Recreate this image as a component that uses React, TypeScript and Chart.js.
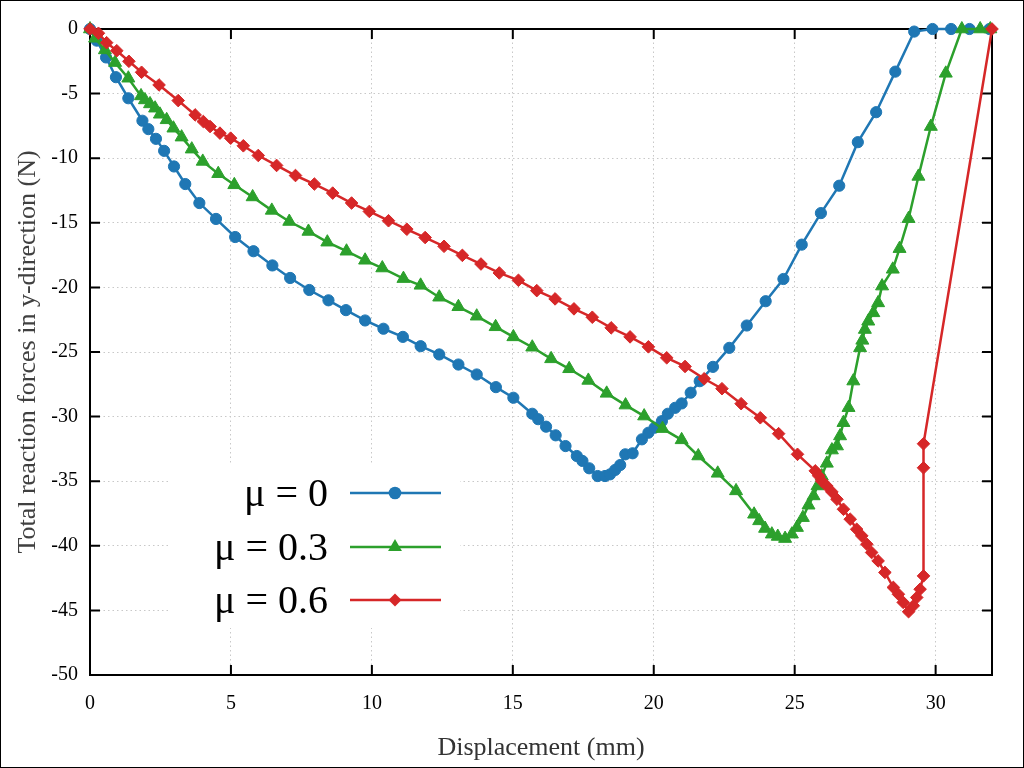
import React, { useEffect, useRef } from "react";
import { Chart, registerables } from "chart.js";

Chart.register(...registerables);

// ---- data (displacement in mm, force in N) ----
const mu0X = [0, 0.24, 0.57, 0.92, 1.36, 1.86, 2.07, 2.34, 2.63, 2.98, 3.38, 3.88, 4.47, 5.15, 5.8, 6.47, 7.1, 7.78, 8.46, 9.08, 9.76, 10.41, 11.1, 11.73, 12.39, 13.07, 13.72, 14.4, 15.02, 15.69, 15.9, 16.18, 16.52, 16.87, 17.27, 17.47, 17.71, 18.01, 18.27, 18.45, 18.63, 18.81, 18.99, 19.25, 19.58, 19.81, 20.03, 20.29, 20.5, 20.76, 20.99, 21.31, 21.63, 22.1, 22.68, 23.3, 23.97, 24.6, 25.25, 25.93, 26.58, 27.24, 27.89, 28.57, 29.24, 29.89, 30.55, 31.2, 31.91];
const mu0Y = [0, -0.9, -2.2, -3.73, -5.36, -7.1, -7.75, -8.5, -9.43, -10.64, -12.0, -13.47, -14.7, -16.1, -17.2, -18.3, -19.27, -20.2, -21.0, -21.76, -22.56, -23.2, -23.83, -24.55, -25.19, -25.97, -26.74, -27.72, -28.54, -29.78, -30.2, -30.78, -31.45, -32.28, -33.05, -33.43, -34.0, -34.6, -34.6, -34.47, -34.13, -33.75, -32.92, -32.84, -31.76, -31.25, -30.86, -30.35, -29.78, -29.32, -28.98, -28.15, -27.26, -26.15, -24.68, -22.95, -21.07, -19.35, -16.69, -14.25, -12.13, -8.76, -6.44, -3.3, -0.2, 0, 0, 0, 0];

const mu03X = [0, 0.18, 0.53, 0.89, 1.36, 1.81, 1.95, 2.13, 2.31, 2.48, 2.72, 2.96, 3.25, 3.61, 4.0, 4.55, 5.12, 5.77, 6.45, 7.07, 7.75, 8.42, 9.1, 9.76, 10.37, 11.12, 11.73, 12.39, 13.07, 13.72, 14.39, 15.02, 15.69, 16.36, 17.0, 17.68, 18.33, 19.0, 19.66, 20.31, 20.99, 21.58, 22.27, 22.92, 23.56, 23.74, 23.95, 24.19, 24.4, 24.66, 24.9, 25.08, 25.29, 25.49, 25.67, 25.81, 25.96, 26.14, 26.32, 26.5, 26.61, 26.73, 26.91, 27.08, 27.32, 27.4, 27.49, 27.61, 27.79, 27.96, 28.1, 28.48, 28.72, 29.04, 29.39, 29.83, 30.36, 30.93, 31.58, 31.94];
const mu03Y = [0, -0.72, -1.62, -2.6, -3.81, -5.18, -5.49, -5.8, -6.13, -6.6, -7.03, -7.68, -8.37, -9.3, -10.25, -11.2, -12.06, -13.0, -14.04, -14.9, -15.67, -16.5, -17.2, -17.9, -18.5, -19.32, -19.84, -20.76, -21.5, -22.23, -23.05, -23.83, -24.63, -25.53, -26.3, -27.2, -28.2, -29.11, -29.96, -30.93, -31.8, -33.05, -34.39, -35.75, -37.56, -38.07, -38.66, -39.1, -39.28, -39.44, -39.1, -38.59, -37.82, -36.86, -36.14, -35.37, -34.6, -33.62, -32.59, -32.28, -31.5, -30.47, -29.31, -27.25, -24.68, -24.1, -23.26, -22.62, -21.97, -21.2, -19.9, -18.6, -17.0, -14.68, -11.41, -7.55, -3.43, 0, 0, 0];

const mu06X = [0, 0.3, 0.59, 0.95, 1.38, 1.83, 2.45, 3.13, 3.73, 4.02, 4.26, 4.61, 4.99, 5.44, 5.97, 6.62, 7.29, 7.96, 8.61, 9.28, 9.91, 10.59, 11.24, 11.89, 12.56, 13.21, 13.87, 14.52, 15.2, 15.85, 16.5, 17.17, 17.82, 18.49, 19.16, 19.81, 20.46, 21.11, 21.79, 22.42, 23.1, 23.78, 24.43, 25.1, 25.73, 25.85, 25.96, 26.14, 26.32, 26.5, 26.73, 26.97, 27.2, 27.38, 27.56, 27.73, 27.96, 28.2, 28.5, 28.68, 28.85, 29.04, 29.21, 29.33, 29.45, 29.57, 29.57, 29.57, 32];
const mu06Y = [0, -0.33, -1.06, -1.68, -2.5, -3.35, -4.33, -5.54, -6.65, -7.16, -7.55, -8.06, -8.45, -9.04, -9.79, -10.56, -11.34, -12.0, -12.7, -13.47, -14.12, -14.84, -15.5, -16.14, -16.82, -17.52, -18.19, -18.88, -19.45, -20.25, -20.89, -21.66, -22.31, -23.13, -23.83, -24.6, -25.45, -26.12, -27.07, -27.84, -29.0, -30.09, -31.32, -32.92, -34.2, -34.58, -34.98, -35.37, -35.83, -36.4, -37.17, -37.94, -38.72, -39.23, -39.88, -40.52, -41.17, -42.06, -43.22, -43.75, -44.38, -45.1, -44.64, -44.0, -43.36, -42.33, -33.96, -32.1, 0];

const seriesLabels = ["\u03bc = 0", "\u03bc = 0.3", "\u03bc = 0.6"];
const seriesColors = ["#1f77b4", "#2ca02c", "#d62728"];
const seriesStyles = ["circle", "triangle", "rectRot"];
const xTitle = "Displacement (mm)";
const yTitle = "Total reaction forces in y-direction (N)";

const SERIF = "'Liberation Serif', 'DejaVu Serif', serif";

const toPoints = (xs: number[], ys: number[]) => xs.map((x, i) => ({ x, y: ys[i] }));

function drawMarker(ctx: CanvasRenderingContext2D, style: string, x: number, y: number, r: number) {
  ctx.beginPath();
  if (style === "circle") {
    ctx.arc(x, y, r, 0, Math.PI * 2);
  } else if (style === "triangle") {
    for (let k = 0; k < 3; k++) {
      const a = (k * 2 * Math.PI) / 3;
      const px = x + Math.sin(a) * r;
      const py = y - Math.cos(a) * r;
      if (k === 0) ctx.moveTo(px, py);
      else ctx.lineTo(px, py);
    }
    ctx.closePath();
  } else {
    ctx.moveTo(x, y - r);
    ctx.lineTo(x + r, y);
    ctx.lineTo(x, y + r);
    ctx.lineTo(x - r, y);
    ctx.closePath();
  }
  ctx.fill();
}

const framePlugin = {
  id: "frameAndLegendBox",
  beforeDatasetsDraw(chart: any) {
    const { ctx, chartArea } = chart;
    const { left, right, top, bottom } = chartArea;
    ctx.save();
    // legend background box (covers grid lines)
    ctx.fillStyle = "#ffffff";
    ctx.fillRect(170, 465, 290, 163);
    // frame
    ctx.strokeStyle = "#000";
    ctx.lineWidth = 2;
    ctx.strokeRect(left, top, right - left, bottom - top);
    // inward ticks
    const tl = 10;
    ctx.beginPath();
    chart.scales.x.ticks.forEach((t: any) => {
      const px = chart.scales.x.getPixelForValue(t.value);
      ctx.moveTo(px, bottom);
      ctx.lineTo(px, bottom - tl);
      ctx.moveTo(px, top);
      ctx.lineTo(px, top + tl);
    });
    chart.scales.y.ticks.forEach((t: any) => {
      const py = chart.scales.y.getPixelForValue(t.value);
      ctx.moveTo(left, py);
      ctx.lineTo(left + tl, py);
      ctx.moveTo(right, py);
      ctx.lineTo(right - tl, py);
    });
    ctx.stroke();
    ctx.restore();
  },
  afterDraw(chart: any) {
    const { ctx } = chart;
    ctx.save();
    // legend
    const rowsY = [493, 547, 600];
    const radii = [6.3, 8, 6.5];
    ctx.font = `40px ${SERIF}`;
    ctx.textAlign = "right";
    ctx.textBaseline = "middle";
    seriesLabels.forEach((lab, i) => {
      const y = rowsY[i];
      ctx.fillStyle = "#000";
      ctx.fillText(lab, 328, y + 2);
      ctx.strokeStyle = seriesColors[i];
      ctx.lineWidth = 2.5;
      ctx.beginPath();
      ctx.moveTo(350, y);
      ctx.lineTo(441, y);
      ctx.stroke();
      ctx.fillStyle = seriesColors[i];
      drawMarker(ctx, seriesStyles[i], 395, y, radii[i]);
    });
    // outer border of the image
    ctx.strokeStyle = "#000";
    ctx.lineWidth = 1;
    ctx.strokeRect(0.5, 0.5, chart.width - 1, chart.height - 1);
    ctx.restore();
  },
};

export default function App() {
  const canvasRef = useRef<HTMLCanvasElement | null>(null);

  useEffect(() => {
    document.body.style.margin = "0";
    const canvas = canvasRef.current;
    if (!canvas) return;
    const xs = [mu0X, mu03X, mu06X];
    const ys = [mu0Y, mu03Y, mu06Y];
    const radii = [5.6, 7.5, 6.3];
    const chart = new Chart(canvas, {
      type: "line",
      data: {
        datasets: seriesLabels.map((label, i) => ({
          label,
          data: toPoints(xs[i], ys[i]),
          borderColor: seriesColors[i],
          backgroundColor: seriesColors[i],
          pointBackgroundColor: seriesColors[i],
          pointBorderColor: seriesColors[i],
          pointBorderWidth: 1,
          pointStyle: seriesStyles[i] as any,
          pointRadius: radii[i],
          borderWidth: 2.5,
          tension: 0,
          clip: false as any,
          order: 3 - i,
        })),
      },
      options: {
        animation: false,
        responsive: false,
        devicePixelRatio: 1,
        parsing: true,
        layout: { padding: { top: 29, right: 32, left: 0, bottom: 0 } },
        plugins: {
          legend: { display: false },
          tooltip: { enabled: false },
        },
        scales: {
          x: {
            type: "linear",
            min: 0,
            max: 32,
            ticks: {
              stepSize: 5,
              includeBounds: false,
              color: "#000",
              font: { family: SERIF, size: 20 },
              padding: 17,
              maxRotation: 0,
            } as any,
            grid: { color: "#c8c8c8", lineWidth: 1, drawTicks: false },
            border: { display: false, dash: [1.5, 3] },
            title: {
              display: true,
              text: xTitle,
              color: "#333",
              font: { family: SERIF, size: 26 },
              padding: { top: 0, bottom: 4 },
            },
            afterFit: (s: any) => {
              s.height = 93;
            },
          },
          y: {
            type: "linear",
            min: -50,
            max: 0,
            ticks: {
              stepSize: 5,
              color: "#000",
              font: { family: SERIF, size: 20 },
              padding: 12,
            },
            grid: { color: "#c8c8c8", lineWidth: 1, drawTicks: false },
            border: { display: false, dash: [1.5, 3] },
            title: {
              display: true,
              text: yTitle,
              color: "#404040",
              font: { family: SERIF, size: 26 },
              padding: { top: 13, bottom: 0 },
            },
            afterFit: (s: any) => {
              s.width = 90;
            },
          },
        },
      },
      plugins: [framePlugin],
    });
    return () => chart.destroy();
  }, []);

  return (
    <div style={{ position: "absolute", left: 0, top: 0, width: 1024, height: 768, background: "#fff" }}>
      <canvas ref={canvasRef} width={1024} height={768} style={{ display: "block" }} />
    </div>
  );
}
